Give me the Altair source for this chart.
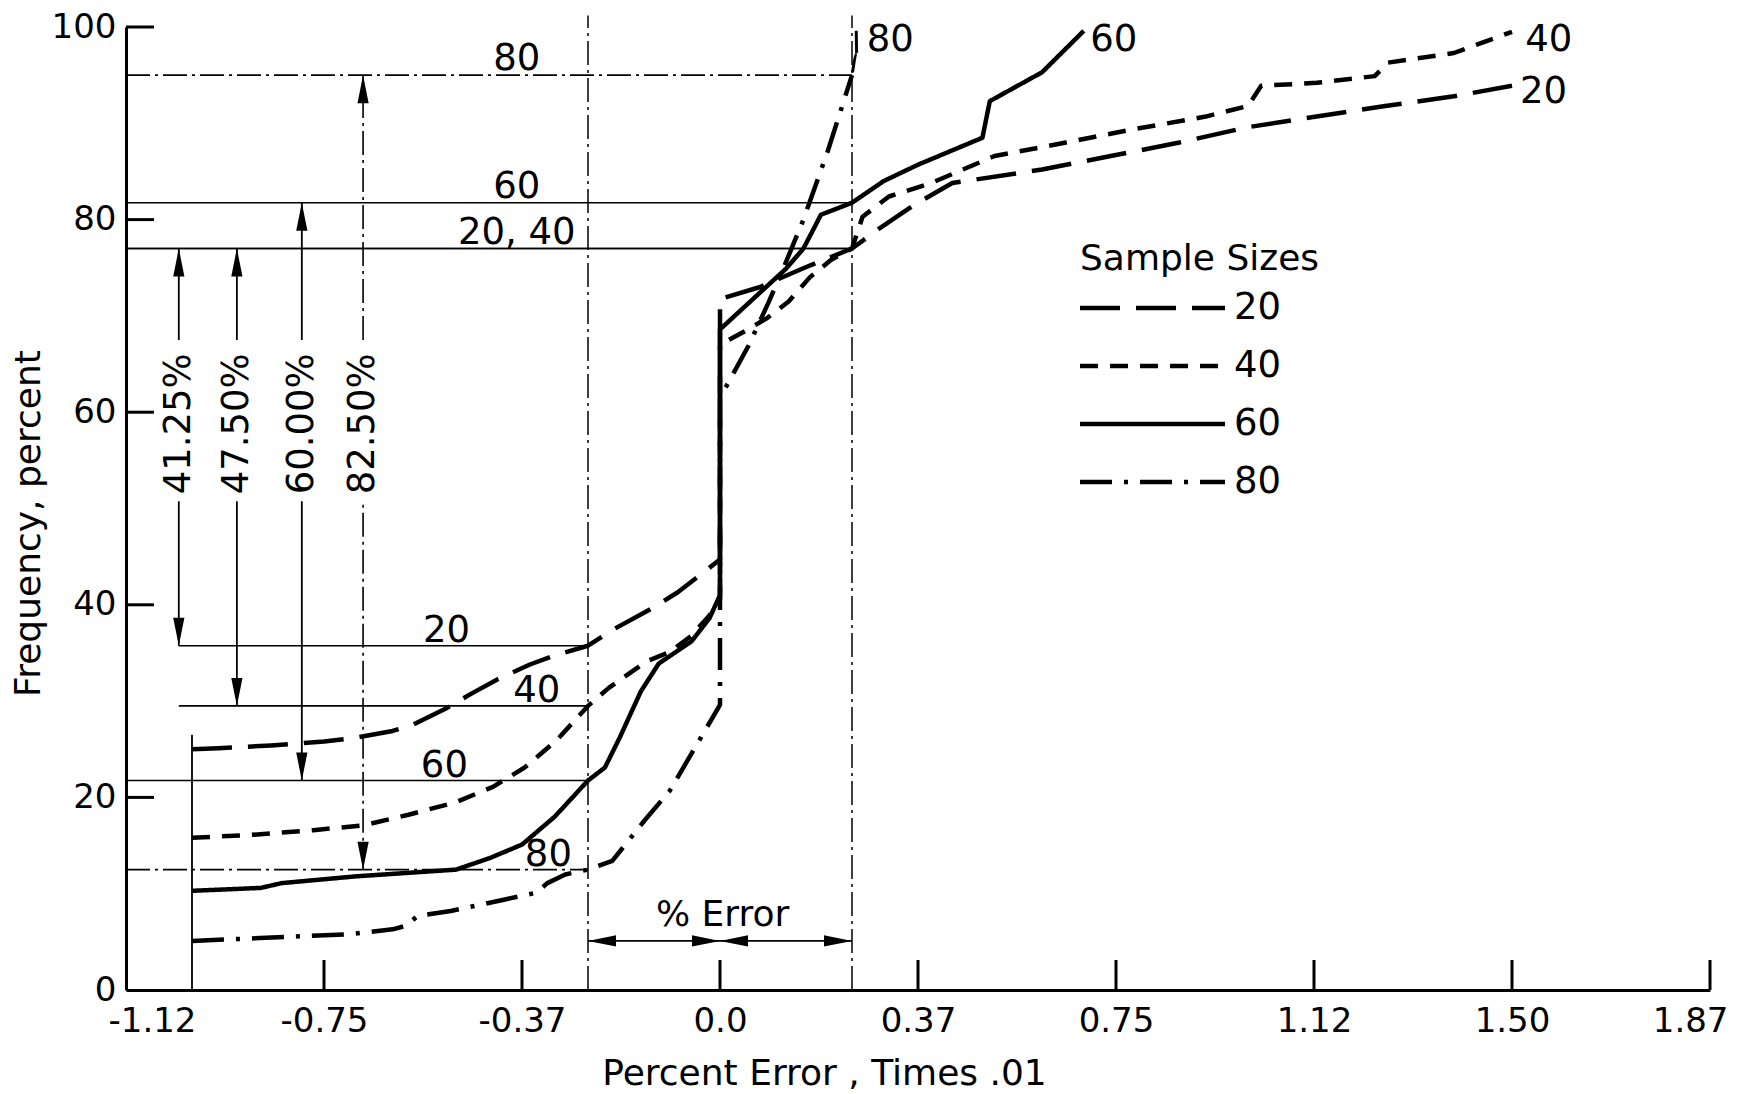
import altair as alt
import pandas as pd

FONT = "DejaVu Sans"

# ---------------------------------------------------------------- data
SAMPLE_SIZES = ["20", "40", "60", "80"]

# cumulative frequency (percent) against percent error (times .01)
ERR_20 = [-1.0, -0.95, -0.85, -0.75, -0.69, -0.62, -0.58, -0.52, -0.47, -0.42, -0.36,
          -0.31, -0.25, -0.20, -0.13, -0.08, -0.04, 0.0, 0.0, 0.076, 0.16, 0.25, 0.30,
          0.37, 0.44, 0.61, 0.74, 0.87, 1.0, 1.13, 1.26, 1.39, 1.5]
FREQ_20 = [25.0, 25.1, 25.4, 25.8, 26.2, 26.9, 27.6, 29.2, 30.8, 32.3, 33.8,
           34.8, 35.75, 37.5, 39.6, 41.3, 43.0, 44.7, 71.75, 73.0, 75.0, 77.0, 79.0,
           81.6, 83.8, 85.2, 86.6, 88.0, 89.6, 90.7, 91.8, 92.8, 93.9]

ERR_40 = [-1.0, -0.89, -0.77, -0.675, -0.59, -0.5, -0.43, -0.37, -0.31, -0.25, -0.21,
          -0.14, -0.095, -0.054, -0.02, 0.0, 0.0, 0.05, 0.09, 0.13, 0.17, 0.21, 0.25,
          0.27, 0.32, 0.40, 0.52, 0.655, 0.785, 0.92, 1.0, 1.025, 1.13, 1.24, 1.265,
          1.39, 1.5]
FREQ_40 = [15.8, 16.1, 16.6, 17.1, 18.2, 19.5, 21.1, 23.1, 25.9, 29.5, 31.4,
           34.1, 35.1, 36.8, 38.9, 40.6, 67.0, 68.5, 69.8, 71.5, 74.0, 75.8, 77.0,
           80.3, 82.4, 83.8, 86.6, 88.0, 89.4, 90.7, 91.8, 93.9, 94.2, 94.9, 96.3,
           97.3, 99.5]

ERR_60 = [-1.0, -0.87, -0.83, -0.69, -0.5, -0.436, -0.375, -0.313, -0.25, -0.218,
          -0.19, -0.15, -0.116, -0.054, -0.02, 0.0, 0.0, 0.125, 0.158, 0.178, 0.191,
          0.224, 0.25, 0.31, 0.375, 0.497, 0.511, 0.61, 0.689]
FREQ_60 = [10.3, 10.6, 11.1, 11.8, 12.5, 13.7, 15.1, 18.0, 21.75, 23.1,
           26.2, 31.0, 33.9, 36.2, 38.6, 41.0, 68.6, 74.9, 77.0, 79.1, 80.5,
           81.2, 81.75, 84.0, 85.7, 88.5, 92.3, 95.3, 99.6]

ERR_80 = [-1.0, -0.825, -0.70, -0.62, -0.593, -0.573, -0.51, -0.416, -0.348, -0.327,
          -0.293, -0.25, -0.204, -0.143, -0.095, -0.047, 0.0, 0.0, 0.054, 0.092,
          0.122, 0.158, 0.204, 0.25]
FREQ_80 = [5.1, 5.5, 5.8, 6.3, 6.7, 7.7, 8.2, 9.3, 10.1, 11.1,
           12.0, 12.5, 13.4, 17.6, 20.7, 25.2, 29.6, 61.5, 66.9, 71.4,
           75.2, 80.0, 87.1, 95.0]

# frequency read at -0.25 and +0.25 error, and the share that falls between them
ERROR_BOUND = 0.25
UPPER_FREQ = [77.0, 77.0, 81.75, 95.0]
LOWER_FREQ = [35.75, 29.5, 21.75, 12.5]
WITHIN_PCT = [41.25, 47.50, 60.00, 82.50]

# smallest error observed, common to all curves
MIN_ERROR = -1.0
MIN_ERROR_FREQ = 26.5

X_TICKS = [-1.125, -0.75, -0.375, 0.0, 0.375, 0.75, 1.125, 1.5, 1.875]
X_TICK_LABELS = ["-1.12", "-0.75", "-0.37", "0.0", "0.37", "0.75", "1.12", "1.50", "1.87"]
Y_TICKS = [0, 20, 40, 60, 80, 100]

X_TITLE = "Percent Error , Times .01"
Y_TITLE = "Frequency, percent"
LEGEND_TITLE = "Sample Sizes"
ERROR_LABEL = "% Error"

# ---------------------------------------------------------------- layout
W, H = 1584, 963
X_MIN, X_MAX = -1.125, 1.875
ARROW_X = [-1.025, -0.915, -0.792, -0.676]
ARROW_GAP = (50.75, 67.5)
ARROW_LABEL_Y = 58.8
TOP_LABEL_X = -0.385
LOW_LABEL_X = [-0.518, -0.347, -0.522, -0.325]
END_LABEL_POS = [(1.515, 93.2), (1.525, 98.7), (0.701, 98.7), (0.278, 98.7)]
LEADER_ERR = [0.251, 0.259, 0.258]
LEADER_FREQ = [95.3, 97.2, 99.6]
TOP_LINE_END = 101.2
ERR_ARROW_Y = 5.1
ERR_TEXT_POS = (0.005, 7.8)
TICK_LEN = 30
LEGEND_X, LEGEND_LEN = 954, 145
LEGEND_TOP, LEGEND_STEP = 281, 58

LABEL_SIZE = 37
TITLE_SIZE = 36
TICK_LABEL_SIZE = 34

DASHES = {"20": [40, 16], "40": [18, 12], "60": [1, 0], "80": [32, 12, 4, 12]}
DASH_DOT = [24, 5, 3, 5]

ARROW_UP = "M0,0L-0.4,2L0.4,2Z"
ARROW_DOWN = "M0,0L-0.4,-2L0.4,-2Z"
ARROW_LEFT = "M0,0L2,-0.4L2,0.4Z"
ARROW_RIGHT = "M0,0L-2,-0.4L-2,0.4Z"
HEAD_SIZE = 784

# ---------------------------------------------------------------- frames
curves = []
for s, xs, ys in zip(SAMPLE_SIZES, [ERR_20, ERR_40, ERR_60, ERR_80],
                     [FREQ_20, FREQ_40, FREQ_60, FREQ_80]):
    curves.append(pd.DataFrame({"x": xs, "y": ys, "size": s, "seq": range(len(xs))}))
curve_df = pd.concat(curves, ignore_index=True)

ref_rows = []
for i, s in enumerate(SAMPLE_SIZES):
    ref_rows.append({"x": X_MIN, "x2": ERROR_BOUND, "y": UPPER_FREQ[i], "size": s})
    low_start = ARROW_X[0] if i < 2 else X_MIN
    ref_rows.append({"x": low_start, "x2": -ERROR_BOUND, "y": LOWER_FREQ[i], "size": s})
ref_df = pd.DataFrame(ref_rows)

bound_df = pd.DataFrame({"x": [-ERROR_BOUND, ERROR_BOUND], "y": [0, 0],
                         "y2": [TOP_LINE_END, TOP_LINE_END]})
min_df = pd.DataFrame({"x": [MIN_ERROR], "y": [0], "y2": [MIN_ERROR_FREQ]})

seg_rows = []
for i, s in enumerate(SAMPLE_SIZES):
    seg_rows.append({"x": ARROW_X[i], "y": ARROW_GAP[1], "y2": UPPER_FREQ[i], "size": s})
    seg_rows.append({"x": ARROW_X[i], "y": LOWER_FREQ[i], "y2": ARROW_GAP[0], "size": s})
seg_df = pd.DataFrame(seg_rows)

up_df = pd.DataFrame({"x": ARROW_X, "y": UPPER_FREQ})
down_df = pd.DataFrame({"x": ARROW_X, "y": LOWER_FREQ})
pct_df = pd.DataFrame({"x": ARROW_X, "y": [ARROW_LABEL_Y] * 4,
                       "t": [f"{v:.2f}%" for v in WITHIN_PCT]})

top_groups = {}
for s, u in zip(SAMPLE_SIZES, UPPER_FREQ):
    top_groups.setdefault(u, []).append(s)
top_df = pd.DataFrame({"x": TOP_LABEL_X, "y": [u + 0.5 for u in top_groups],
                       "t": [", ".join(v) for v in top_groups.values()]})
low_df = pd.DataFrame({"x": LOW_LABEL_X, "y": [v + 0.4 for v in LOWER_FREQ],
                       "t": SAMPLE_SIZES})
end_df = pd.DataFrame({"x": [p[0] for p in END_LABEL_POS],
                       "y": [p[1] for p in END_LABEL_POS], "t": SAMPLE_SIZES})
leader_df = pd.DataFrame({"x": LEADER_ERR, "y": LEADER_FREQ, "o": range(3)})

err_line_df = pd.DataFrame({"x": [-ERROR_BOUND], "x2": [ERROR_BOUND], "y": [ERR_ARROW_Y]})
err_left_df = pd.DataFrame({"x": [-ERROR_BOUND, 0.0], "y": [ERR_ARROW_Y] * 2})
err_right_df = pd.DataFrame({"x": [0.0, ERROR_BOUND], "y": [ERR_ARROW_Y] * 2})
err_text_df = pd.DataFrame({"x": [ERR_TEXT_POS[0]], "y": [ERR_TEXT_POS[1]], "t": [ERROR_LABEL]})

ytick_df = pd.DataFrame({"y": Y_TICKS[1:]})
xtick_df = pd.DataFrame({"x": X_TICKS[1:]})

# ---------------------------------------------------------------- scales, axes
xscale = alt.Scale(domain=[X_MIN, X_MAX], nice=False, zero=False)
yscale = alt.Scale(domain=[0, 100], nice=False, zero=False)
dash_scale = alt.Scale(domain=SAMPLE_SIZES, range=[DASHES[s] for s in SAMPLE_SIZES])

label_expr = "".join(f"abs(datum.value - ({v})) < 1e-6 ? '{lab}' : "
                     for v, lab in zip(X_TICKS, X_TICK_LABELS)) + "datum.label"

xaxis = alt.Axis(values=X_TICKS, labelExpr=label_expr, title=X_TITLE, ticks=False, grid=False,
                 domain=True, domainWidth=3, domainColor="black", labelFont=FONT,
                 labelFontSize=TICK_LABEL_SIZE, labelColor="black", labelPadding=14,
                 labelFlush=True, labelFlushOffset=18, labelOverlap=False,
                 titleFont=FONT, titleFontSize=TITLE_SIZE,
                 titleFontWeight="normal", titleColor="black",
                 titleX=698, titleY=83, titleBaseline="middle")
yaxis = alt.Axis(values=Y_TICKS, title=Y_TITLE, ticks=False, grid=False,
                 domain=True, domainWidth=3, domainColor="black", labelFont=FONT,
                 labelFontSize=TICK_LABEL_SIZE, labelColor="black", labelPadding=10,
                 labelFlush=False, labelOverlap=False, titleFont=FONT,
                 titleFontSize=TITLE_SIZE, titleFontWeight="normal", titleColor="black",
                 titleX=-98, titleY=496, titleBaseline="middle", titleAngle=270)

# every layer carries the same axis definitions so they merge into one pair of axes
X = alt.X("x:Q", scale=xscale, axis=xaxis)
Y = alt.Y("y:Q", scale=yscale, axis=yaxis)

# ---------------------------------------------------------------- layers
curves_layer = alt.Chart(curve_df).mark_line(
    color="black", strokeWidth=4.5, strokeJoin="round", strokeCap="butt"
).encode(
    x=X, y=Y,
    strokeDash=alt.StrokeDash("size:N", scale=dash_scale, legend=None),
    order="seq:Q",
)

ref_solid = alt.Chart(ref_df).transform_filter("datum.size != '80'").mark_rule(
    color="black", strokeWidth=1.6
).encode(x=X, x2="x2:Q", y=Y)
ref_dd = alt.Chart(ref_df).transform_filter("datum.size == '80'").mark_rule(
    color="black", strokeWidth=1.6, strokeDash=DASH_DOT
).encode(x=X, x2="x2:Q", y=Y)

bound_layer = alt.Chart(bound_df).mark_rule(
    color="black", strokeWidth=1.5, strokeDash=DASH_DOT
).encode(x=X, y=Y, y2="y2:Q")
min_layer = alt.Chart(min_df).mark_rule(color="black", strokeWidth=1.8).encode(
    x=X, y=Y, y2="y2:Q")

seg_solid = alt.Chart(seg_df).transform_filter("datum.size != '80'").mark_rule(
    color="black", strokeWidth=1.8
).encode(x=X, y=Y, y2="y2:Q")
seg_dd = alt.Chart(seg_df).transform_filter("datum.size == '80'").mark_rule(
    color="black", strokeWidth=1.6, strokeDash=DASH_DOT
).encode(x=X, y=Y, y2="y2:Q")


def heads(df, path):
    return alt.Chart(df).mark_point(
        shape=path, size=HEAD_SIZE, filled=True, color="black", opacity=1, strokeWidth=0
    ).encode(x=X, y=Y)


text_kw = dict(font=FONT, color="black", fontSize=LABEL_SIZE)

pct_layer = alt.Chart(pct_df).mark_text(angle=270, align="center", baseline="middle",
                                        **text_kw).encode(x=X, y=Y, text="t:N")
top_layer = alt.Chart(top_df).mark_text(align="center", baseline="alphabetic",
                                        **text_kw).encode(x=X, y=Y, text="t:N")
low_layer = alt.Chart(low_df).mark_text(align="center", baseline="alphabetic",
                                        **text_kw).encode(x=X, y=Y, text="t:N")
end_layer = alt.Chart(end_df).mark_text(align="left", baseline="middle",
                                        **text_kw).encode(x=X, y=Y, text="t:N")
leader_layer = alt.Chart(leader_df).mark_line(
    color="black", strokeWidth=3, interpolate="monotone"
).encode(x=X, y=Y, order="o:Q")

err_line = alt.Chart(err_line_df).mark_rule(color="black", strokeWidth=1.6).encode(
    x=X, x2="x2:Q", y=Y)
err_text = alt.Chart(err_text_df).mark_text(
    align="center", baseline="middle", font=FONT, color="black", fontSize=TITLE_SIZE
).encode(x=X, y=Y, text="t:N")

# inward ticks along both axes
ytick_layer = alt.Chart(ytick_df).mark_rule(color="black", strokeWidth=3).encode(
    y=Y, x=alt.value(0), x2=alt.value(TICK_LEN - 2))
xtick_layer = alt.Chart(xtick_df).mark_rule(color="black", strokeWidth=3).encode(
    x=X, y=alt.value(H), y2=alt.value(H - TICK_LEN))

# key for the sample sizes
legend_layers = [
    alt.Chart(pd.DataFrame({"t": [LEGEND_TITLE]})).mark_text(
        align="left", baseline="middle", font=FONT, color="black", fontSize=TITLE_SIZE
    ).encode(x=alt.value(LEGEND_X), y=alt.value(LEGEND_TOP - 49), text="t:N")
]
for i, s in enumerate(SAMPLE_SIZES):
    ly = LEGEND_TOP + i * LEGEND_STEP
    entry = pd.DataFrame({"t": [s]})
    legend_layers.append(
        alt.Chart(entry).mark_rule(color="black", strokeWidth=4.5, strokeDash=DASHES[s]).encode(
            x=alt.value(LEGEND_X), x2=alt.value(LEGEND_X + LEGEND_LEN), y=alt.value(ly))
    )
    legend_layers.append(
        alt.Chart(entry).mark_text(align="left", baseline="middle", **text_kw).encode(
            x=alt.value(LEGEND_X + LEGEND_LEN + 9), y=alt.value(ly), text="t:N")
    )

chart = alt.layer(
    curves_layer, ref_solid, ref_dd, bound_layer, min_layer, leader_layer,
    seg_solid, seg_dd, heads(up_df, ARROW_UP), heads(down_df, ARROW_DOWN),
    pct_layer, top_layer, low_layer, end_layer,
    err_line, heads(err_left_df, ARROW_LEFT), heads(err_right_df, ARROW_RIGHT), err_text,
    ytick_layer, xtick_layer, *legend_layers,
).properties(
    width=W, height=H,
    padding={"left": 126, "top": 27, "right": 36, "bottom": 104},
    autosize=alt.AutoSizeParams(type="none"),
    background="white",
).configure_view(stroke=None)

chart.save("out.html", embed_options={"renderer": "svg", "actions": False})
